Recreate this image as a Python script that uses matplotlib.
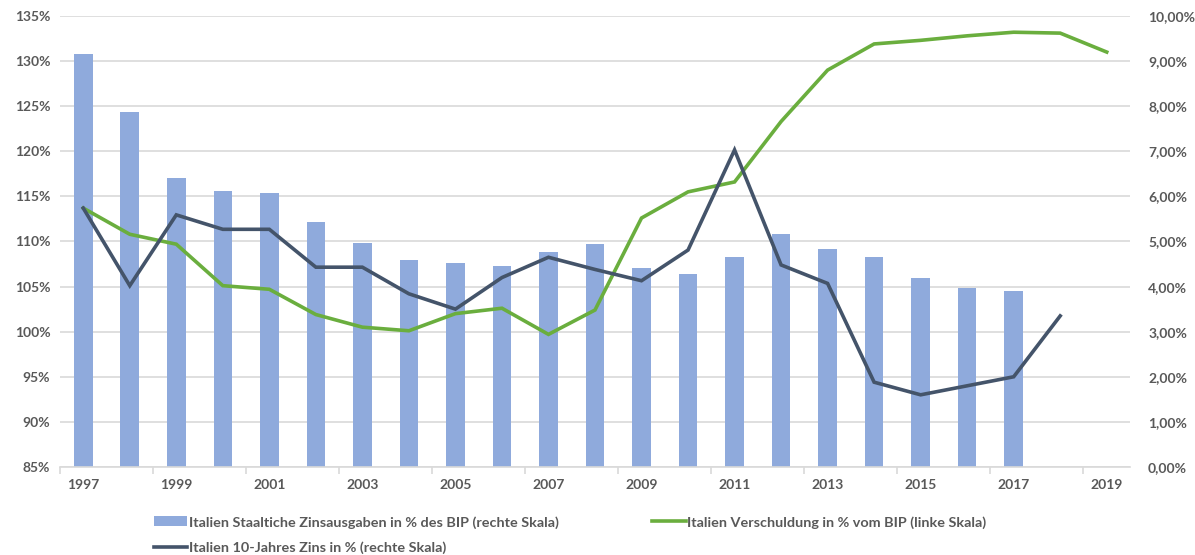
import matplotlib
matplotlib.use("Agg")
import matplotlib.pyplot as plt
from matplotlib.ticker import FuncFormatter, FixedLocator

# Data
years = list(range(1997, 2020))

# Italien Staatliche Zinsausgaben in % des BIP (right scale), none for 2018/2019
zinsausgaben = [9.16, 7.86, 6.40, 6.12, 6.08, 5.44, 4.96, 4.60, 4.52, 4.46, 4.76,
                4.94, 4.42, 4.28, 4.66, 5.16, 4.84, 4.66, 4.18, 3.96, 3.90, None, None]

# Italien Verschuldung in % vom BIP (left scale)
verschuldung = [113.7, 110.8, 109.7, 105.1, 104.7, 101.9, 100.5, 100.1, 102.0, 102.6,
                99.7, 102.4, 112.6, 115.5, 116.6, 123.3, 129.0, 131.9, 132.3, 132.8,
                133.2, 133.1, 131.0]

# Italien 10-Jahres Zins in % (right scale), none for 2019
zins10 = [5.74, 4.02, 5.59, 5.27, 5.27, 4.43, 4.43, 3.84, 3.50, 4.20, 4.65, 4.38,
          4.13, 4.81, 7.03, 4.48, 4.07, 1.88, 1.60, 1.80, 2.00, 3.35, None]

label_bar = "Italien Staaltiche Zinsausgaben in % des BIP (rechte Skala)"
label_debt = "Italien Verschuldung in % vom BIP (linke Skala)"
label_rate = "Italien 10-Jahres Zins in % (rechte Skala)"

BAR_COLOR = "#8FAADC"
GREEN = "#6AAE3E"
DARK = "#44546A"
GRID = "#D9D9D9"
TEXT = "#595959"

plt.rcParams["font.family"] = ["Lato", "DejaVu Sans"]

fig = plt.figure(figsize=(11.95, 5.55), dpi=100)
ax = fig.add_axes([0.0502, 0.1586, 0.8954, 0.8126])  # right scale, bars

x = list(range(len(years)))
bar_x = [i for i, v in zip(x, zinsausgaben) if v is not None]
bar_v = [v for v in zinsausgaben if v is not None]
bars = ax.bar(bar_x, bar_v, width=0.4, color=BAR_COLOR, label=label_bar, zorder=2)

ax.set_xlim(-0.5, len(years) - 0.5)
ax.set_ylim(0, 10)
ax.grid(axis="y", color=GRID, lw=1.2, zorder=0)
ax.set_axisbelow(True)

# x ticks: labels every 2 years, tick marks at category boundaries
ax.set_xticks(x[::2])
ax.set_xticklabels([str(y) for y in years[::2]])
ax.set_xticks([i + 0.5 for i in range(-1, len(years) - 1, 2)], minor=True)
ax.tick_params(axis="x", which="major", length=0, pad=9)
ax.tick_params(axis="x", which="minor", length=5, color=GRID, width=1.2)

for s in ["top", "left", "right"]:
    ax.spines[s].set_visible(False)
ax.spines["bottom"].set_color(GRID)
ax.spines["bottom"].set_linewidth(1.2)

# left scale: debt
ax_l = ax.twinx()
ax_l.set_ylim(85, 135)
ax_l.plot(x, verschuldung, color=GREEN, lw=2.6, label=label_debt,
          solid_joinstyle="miter")
for s in ax_l.spines.values():
    s.set_visible(False)

# 10-year rate, right scale, drawn on top
ax_r = ax.twinx()
ax_r.set_ylim(0, 10)
ax_r.set_yticks([])
rx = [i for i, v in zip(x, zins10) if v is not None]
rv = [v for v in zins10 if v is not None]
ax_r.plot(rx, rv, color=DARK, lw=2.6, label=label_rate, solid_joinstyle="miter")
for s in ax_r.spines.values():
    s.set_visible(False)

# tick sides (twinx resets them)
ax.yaxis.tick_right()
ax.yaxis.set_major_locator(FixedLocator(list(range(11))))
ax.yaxis.set_major_formatter(FuncFormatter(lambda v, p: f"{v:.2f}%".replace(".", ",")))
ax.tick_params(axis="y", length=0, pad=13)

ax_l.yaxis.tick_left()
ax_l.yaxis.set_major_locator(FixedLocator(list(range(85, 136, 5))))
ax_l.yaxis.set_major_formatter(FuncFormatter(lambda v, p: f"{v:.0f}%"))
ax_l.tick_params(axis="y", length=0, pad=7)

for a in (ax, ax_l):
    for t in a.get_xticklabels() + a.get_yticklabels():
        t.set_color(TEXT)
        t.set_fontweight("bold")
        t.set_fontsize(10)

handles = [bars, ax_r.get_lines()[0], ax_l.get_lines()[0]]
labels = [label_bar, label_rate, label_debt]
leg = fig.legend(handles, labels, ncol=2, loc="lower left",
                 bbox_to_anchor=(0.118, -0.022), frameon=False,
                 prop={"size": 10.4, "weight": "bold"}, labelcolor=TEXT,
                 handlelength=2.3, handletextpad=0.1, columnspacing=6.5,
                 labelspacing=0.9)

fig.savefig("out.png", dpi=100)
